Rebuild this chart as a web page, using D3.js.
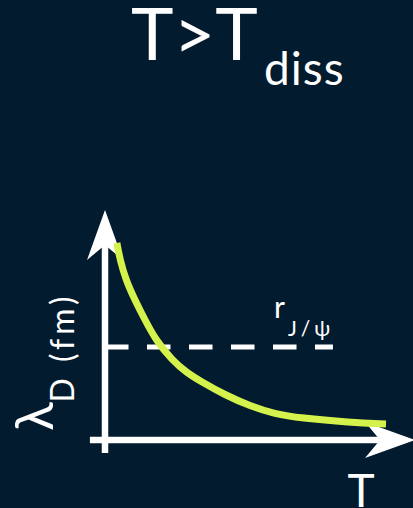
<!DOCTYPE html>
<html>
<head>
<meta charset="utf-8">
<script src="https://cdn.jsdelivr.net/npm/d3@7"></script>
<style>
  html, body { margin: 0; padding: 0; background: #031b2f; }
  svg { display: block; }
  text { font-family: Lato, "Open Sans", sans-serif; fill: #ffffff; }
</style>
</head>
<body>
<script>
// Temperature (arbitrary units) and Debye screening length λ_D (arbitrary units)
const temperature = [0.41, 0.52, 0.72, 1.03, 1.38, 1.75, 2.31, 2.83, 3.28, 4.14, 5.0, 5.86, 6.72, 8.45, 9.69];
const debyeLength = [9.85, 9.0, 8.0, 7.0, 6.0, 5.0, 4.0, 3.35, 2.95, 2.25, 1.7, 1.3, 1.1, 0.88, 0.8];

// J/ψ radius reference level and the range of T it spans
const rJpsi = 4.65;
const rJpsiSpan = [0, 7.86];

// Axis extents (data units), including the part behind the arrowheads
const xAxisExtent = [-0.52, 10.69];
const yAxisExtent = [-0.65, 11.5];

const width = 413, height = 508;
const bg = "#031b2f";
const curveColor = "#d4f24b";

const svg = d3.select("body").append("svg")
  .attr("width", width).attr("height", height);

svg.append("rect").attr("width", width).attr("height", height).attr("fill", bg);

const x = d3.scaleLinear().domain([0, 10]).range([105, 395]);
const y = d3.scaleLinear().domain([0, 10]).range([440, 240]);

// Title
svg.append("text").attr("x", 131).attr("y", 60)
  .attr("font-size", 72).text("T>T");
svg.append("text").attr("x", 264).attr("y", 85)
  .attr("font-size", 46).attr("letter-spacing", 1).text("diss");

// Axes
const axes = svg.append("g");
const x0 = x(0), y0 = y(0);
const xTip = x(xAxisExtent[1]), yTip = y(yAxisExtent[1]);

axes.append("line")
  .attr("x1", x(xAxisExtent[0])).attr("y1", y0)
  .attr("x2", xTip - 30).attr("y2", y0)
  .attr("stroke", "#fff").attr("stroke-width", 6.5);
axes.append("line")
  .attr("x1", x0).attr("y1", y(yAxisExtent[0]))
  .attr("x2", x0).attr("y2", yTip + 30)
  .attr("stroke", "#fff").attr("stroke-width", 6.5);

// Notched arrowheads
const headLen = 50, headHalf = 18, notch = 15;
axes.append("path")
  .attr("d", `M${x0},${yTip} L${x0 - headHalf},${yTip + headLen} L${x0},${yTip + headLen - notch} L${x0 + headHalf},${yTip + headLen} Z`)
  .attr("fill", "#fff");
axes.append("path")
  .attr("d", `M${xTip},${y0} L${xTip - headLen},${y0 - headHalf} L${xTip - headLen + notch},${y0} L${xTip - headLen},${y0 + headHalf} Z`)
  .attr("fill", "#fff");

// Dashed reference line at r_J/ψ
svg.append("line")
  .attr("x1", x(rJpsiSpan[0])).attr("x2", x(rJpsiSpan[1]))
  .attr("y1", y(rJpsi)).attr("y2", y(rJpsi))
  .attr("stroke", "#fff").attr("stroke-width", 5)
  .attr("stroke-dasharray", "23.5 18.5");

// r_J/ψ label
svg.append("text").attr("x", 274).attr("y", 318)
  .attr("font-size", 30).text("r");
svg.append("text").attr("x", 288).attr("y", 336)
  .attr("font-size", 21).attr("letter-spacing", 4).text("J/ψ");

// λ_D(T) curve
const line = d3.line()
  .x((d, i) => x(temperature[i]))
  .y(d => y(d))
  .curve(d3.curveBasis);

svg.append("path")
  .datum(debyeLength)
  .attr("d", line)
  .attr("fill", "none")
  .attr("stroke", curveColor)
  .attr("stroke-width", 7)
  .attr("stroke-linecap", "butt");

// Axis titles
const yLabel = svg.append("text")
  .attr("transform", "translate(53,431) rotate(-90)");
yLabel.append("tspan").attr("font-size", 53).text("λ");
yLabel.append("tspan").attr("font-size", 32).attr("dy", 21)
  .attr("letter-spacing", 4).text("D (fm)");

svg.append("text").attr("x", 361).attr("y", 507)
  .attr("text-anchor", "middle").attr("font-size", 46).text("T");
</script>
</body>
</html>
